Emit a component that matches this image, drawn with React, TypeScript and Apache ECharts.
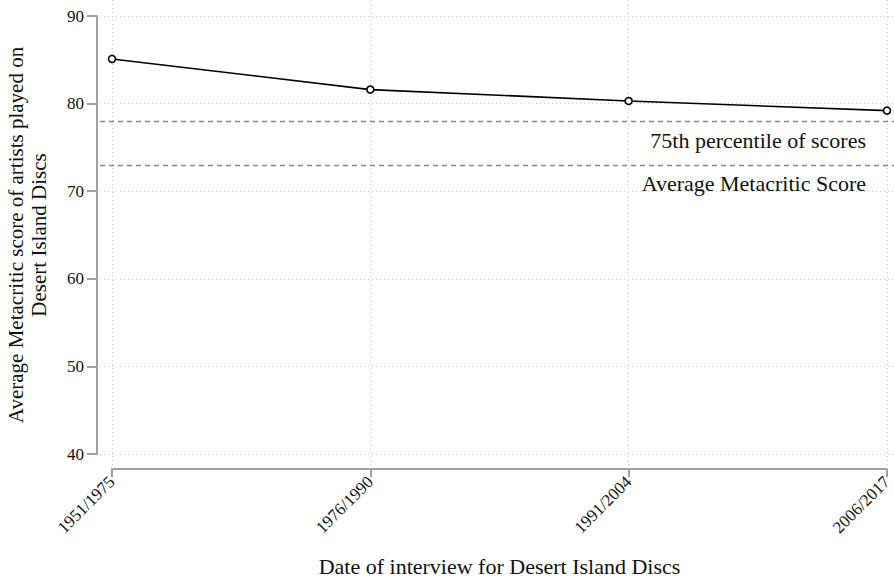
import React, { useEffect, useRef } from "react";
import * as echarts from "echarts";

const categories = ["1951/1975", "1976/1990", "1991/2004", "2006/2017"];
const avgScores = [85.1, 81.6, 80.3, 79.2];
const yTicks = [40, 50, 60, 70, 80, 90];
const refValues = [78, 73];
const refLabels = ["75th percentile of scores", "Average Metacritic Score"];

const FONT = "'Liberation Serif', 'Times New Roman', serif";

export default function App() {
  const ref = useRef<HTMLDivElement>(null);
  useEffect(() => {
    if (!ref.current) return;
    const chart = echarts.init(ref.current, null, { renderer: "svg" });
    const gridLineData: any[] = [];
    yTicks.forEach((v) => gridLineData.push({ yAxis: v }));
    categories.forEach((_, i) => gridLineData.push({ xAxis: i }));
    const refData = refValues.map((v, i) => ({
      yAxis: v,
      label: {
        show: true,
        formatter: refLabels[i],
        position: "insideEndBottom",
        distance: [28, 8],
        fontFamily: FONT,
        fontSize: 22,
        color: "#111",
      },
    }));
    chart.setOption({
      animation: false,
      textStyle: { fontFamily: FONT },
      grid: [
        { left: 100, right: 0, top: 0, bottom: 110, outerBoundsMode: "none", containLabel: false },
        { left: 112, right: 7, top: 16, bottom: 125, outerBoundsMode: "none", containLabel: false },
      ],
      xAxis: [
        { type: "value", gridIndex: 0, min: -0.04645, max: 3.027, show: false },
        {
          type: "category",
          gridIndex: 1,
          data: categories,
          boundaryGap: false,
          offset: 15,
          axisLine: { show: true, lineStyle: { color: "#a0a0a0", width: 2 } },
          axisTick: { show: true, length: 8, lineStyle: { color: "#a0a0a0", width: 2 } },
          axisLabel: { rotate: 45, fontFamily: FONT, fontSize: 17, color: "#111", margin: 10 },
          splitLine: { show: false },
          name: "Date of interview for Desert Island Discs",
          nameLocation: "middle",
          nameGap: 86,
          nameTextStyle: { fontFamily: FONT, fontSize: 22, color: "#111" },
        },
      ],
      yAxis: [
        { type: "value", gridIndex: 0, min: 38.288, max: 91.826, show: false },
        {
          type: "value",
          gridIndex: 1,
          min: 40,
          max: 90,
          interval: 10,
          offset: 15,
          axisLine: { show: true, lineStyle: { color: "#a0a0a0", width: 2 } },
          axisTick: { show: true, length: 10, lineStyle: { color: "#a0a0a0", width: 2 } },
          axisLabel: { fontFamily: FONT, fontSize: 17, color: "#111", margin: 13 },
          splitLine: { show: false },
          name: "Average Metacritic score of artists played on\nDesert Island Discs",
          nameLocation: "middle",
          nameGap: 47,
          nameTextStyle: { fontFamily: FONT, fontSize: 21, color: "#111", lineHeight: 23 },
        },
      ],
      series: [
        {
          type: "line",
          xAxisIndex: 0,
          yAxisIndex: 0,
          data: [],
          silent: true,
          markLine: {
            silent: true,
            symbol: "none",
            label: { show: false },
            lineStyle: { type: [1, 3], color: "#c8c8c8", width: 1 },
            data: gridLineData,
          },
        },
        {
          type: "line",
          xAxisIndex: 0,
          yAxisIndex: 0,
          data: [],
          silent: true,
          markLine: {
            silent: true,
            symbol: "none",
            lineStyle: { type: [5, 4], color: "#888", width: 1.3 },
            data: refData,
          },
        },
        {
          type: "line",
          xAxisIndex: 1,
          yAxisIndex: 1,
          data: avgScores,
          symbol: "circle",
          symbolSize: 7,
          lineStyle: { color: "#000", width: 1.6 },
          itemStyle: { color: "#fff", borderColor: "#000", borderWidth: 1.6 },
          z: 5,
        },
      ],
    });
    return () => chart.dispose();
  }, []);
  return (
    <div
      ref={ref}
      style={{ position: "fixed", left: 0, top: 0, width: 894, height: 579, background: "#fff" }}
    />
  );
}
